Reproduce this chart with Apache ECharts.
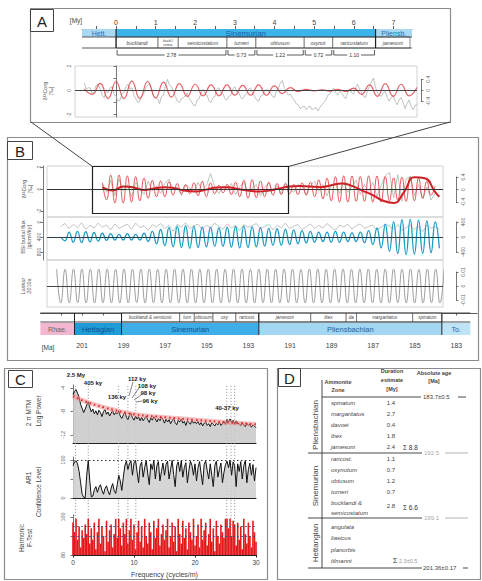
<!DOCTYPE html>
<html><head><meta charset="utf-8">
<script src="https://cdn.jsdelivr.net/npm/echarts@6/dist/echarts.min.js"></script>
<style>html,body{margin:0;padding:0;background:#fff}#c{width:482px;height:581px}</style>
</head><body><div id="c"></div>
<script>
const FONT = "'Liberation Sans', Arial, sans-serif";

// ================= DATA =================
// Panel A (time in My from the Hettangian/Sinemurian boundary)
const myLabelsA = [0,1,2,3,4,5,6,7];
const myTicksA = [-0.5,0,0.5,1,1.5,2,2.5,3,3.5,4,4.5,5,5.5,6,6.5,7];
const stagesA = [['Hett.',-0.86,0],['Sinemurian',0,6.55],['Pliensb.',6.55,7.47]];
const zonesA = [['bucklandi',0,1.06],['buckl./\nsemic.',1.06,1.57],['semicostatum',1.57,2.80],['turneri',2.80,3.53],['obtusum',3.53,4.75],['oxynot.',4.75,5.47],['raricostatum',5.47,6.55],['jamesoni',6.55,7.42]];
const durationsA = [['2.78',0,2.80],['0.73',2.80,3.53],['1.22',3.53,4.75],['0.72',4.75,5.47],['1.10',5.47,6.55]];
const aLeftLabels = [-2,0,2];
const aRightLabels = [-0.4,0,0.4];
const redAStart = -0.8, redAStep = 0.2;
const redA = [0.05,-0.15,0.25,-0.3,0.32,-0.3,0.33,-0.3,0.32,-0.28,0.3,-0.25,0.24,-0.22,0.22,-0.2,0.2,-0.2,0.2,-0.18,0.18,-0.18,0.2,-0.18,0.16,-0.12,0.1,-0.05,0.03,-0.02,0.02,-0.03,0.03,-0.05,0.08,-0.15,0.2,-0.22,0.24,-0.22,0.22,-0.2,0.1];
const grayAStart = -0.8, grayAStep = 0.05;
const grayA = [0.6,0.1,0.2,0.2,-0.3,-0.1,0.4,0.5,0.1,-0.4,-0.6,-0.1,-0.2,0.2,0.3,-0.3,-0.5,-0.9,-0.8,-0.3,
  -0.2,0.3,0.5,0.1,0.2,-0.4,-0.7,-1.0,-0.9,-0.4,-0.3,0.2,0.4,0.5,0.1,-0.5,-0.6,-0.7,-1.1,-0.5,
  -0.4,0.4,0.9,0.4,0.3,-0.1,-0.5,-0.9,-1.0,-0.7,-0.6,-0.5,-0.2,-0.7,-0.9,-1.2,-1.3,-0.8,-0.7,-0.2,
  0.1,-0.3,-0.4,-0.9,-1.0,-0.6,-0.5,0.1,0.2,-0.2,-0.3,-0.7,-0.8,-0.5,-0.4,0.1,0.3,-0.1,-0.2,-0.6,
  -0.7,-0.4,-0.3,0.1,0.2,-0.3,-0.5,-0.8,-0.9,-0.5,-0.4,-0.1,0.1,-0.1,-0.2,-0.5,-0.6,-0.1,0.2,0.6,
  0.8,0.2,-0.1,-0.4,-0.3,-0.6,-0.8,-1.1,-1.2,-1.5,-1.4,-1.3,-1.6,-1.4,-1.3,-1.6,-1.5,-1.4,-1.7,-1.4,
  -1.2,-1.0,-0.8,-0.4,-0.3,0.0,0.2,-0.2,-0.4,-0.1,-0.2,-0.5,-0.7,-0.2,0.1,-0.2,-0.3,0.2,0.5,0.1,
  -0.2,-0.5,-0.6,0.0,0.3,0.7,1.0,0.3,-0.2,-0.4,-0.5,-0.2,-0.1,-0.6,-0.9,-0.6,-0.4,-0.9,-1.2,-0.8,
  -0.6,-1.0,-1.5,-1.1,-0.8,-1.3,-1.6,-1.3,-1.1];

// Panel B (absolute age, Ma)
const maLabelsB = [183,185,187,189,191,193,195,197,199,201];
const maTicksB = [183,184,185,186,187,188,189,190,191,192,193,194,195,196,197,198,199,200,201,202];
const stagesB = [['Rhae.',203.0,201.36],['Hettagian',201.36,199.1],['Sinemurian',199.1,192.5],['Pliensbachian',192.5,183.7],['To.',183.7,182.33]];
const zonesB = [['bucklandi & semicost.',199.1,196.3],['turn',196.3,195.6],['obtusum',195.6,194.7],['oxy',194.7,193.6],['raricost.',193.6,192.5],['jamesoni',192.5,190.0],['ibex',190.0,188.3],['da',188.3,187.8],['margaritatus',187.8,185.1],['spinatum',185.1,183.7]];
const bandsB = [[201.58,201.4,'b'],[199.7,199.42,'b'],[185.55,185.1,'b'],[183.55,182.8,'p']];
const b1LeftLabels = [-2,0,2];
const b2LeftLabels = [0,400,800];
const b1RightLabels = [-0.4,0,0.4];
const b2RightLabels = [-400,0,400];
const b3RightLabels = [-0.01,0,0.01];
const redBStart = 200.0, redBStep = -0.2;
const redB = [0.2,-0.35,0.45,-0.45,0.45,-0.45,0.42,-0.42,0.4,-0.38,0.35,-0.3,0.28,-0.25,0.26,-0.25,0.24,-0.2,0.18,-0.15,0.14,-0.15,0.2,-0.22,0.25,-0.25,0.2,-0.15,0.12,-0.12,0.15,-0.18,0.22,-0.25,0.28,-0.3,0.3,-0.28,0.26,-0.25,0.22,-0.2,0.18,-0.18,0.16,-0.15,0.15,-0.18,0.2,-0.2,0.22,-0.25,0.3,-0.32,0.35,-0.38,0.4,-0.42,0.42,-0.42,0.42,-0.4,0.4,-0.4,0.42,-0.42,0.42,-0.42,0.4,-0.38,0.36,-0.36,0.38,-0.4,0.4,-0.38,0.35,-0.3,0.25,-0.2,0.1];
const thickRedAge = [200.0,199.5,199.0,198.5,198.0,197.5,197.0,196.5,196.0,195.5,195.0,194.5,194.0,193.5,193.0,192.5,192.0,191.5,191.0,190.5,190.0,189.5,189.0,188.5,188.0,187.5,187.0,186.5,186.0,185.5,185.0,184.5,184.0,183.8];
const thickRedVal = [0.05,-0.05,0.08,0.05,-0.03,0.02,0.06,0.02,-0.06,-0.08,-0.02,0.05,0.06,0.0,-0.05,-0.08,-0.05,0.02,0.08,0.1,0.08,0.06,0.12,0.18,0.1,-0.05,-0.2,-0.38,-0.45,-0.1,0.38,0.35,-0.1,-0.25];
const grayB1 = [0.5,-0.3,0.8,-0.6,0.9,-0.2,0.4,-0.7,0.6,0.1,-0.5,0.7,-0.2,0.3,-0.4,0.5,0.9,-0.1,0.2,-0.6,0.4,0.1,-0.3,0.6,-0.2,0.3,1.4,0.2,-0.4,0.3,-0.1,0.5,-0.5,0.2,0.6,-0.3,0.1,0.4,-0.6,0.2,0.5,-0.2,0.3,-0.4,0.6,0.0,-0.3,0.4,0.2,-0.5,0.3,0.7,-0.2,0.4,-0.6,0.3,0.5,-0.4,0.6,-0.3,0.2,0.8,-0.5,0.4,-0.2,0.6,-0.7,0.3,1.2,1.5,-0.8,1.3,-1.1,0.9,1.1,-0.6,0.4,-0.9,0.2,-1.0,-0.4];
const blueBStart = 202.0, blueBStep = -0.2;
const blueB = [0,-100,130,-140,150,-150,140,-130,120,-110,100,-90,90,
  -80,70,-80,90,-80,70,-80,100,-120,150,-180,
  200,-230,250,-260,280,-280,300,-300,290,-280,270,-260,260,-250,240,-250,260,-270,280,-290,290,-280,270,-260,250,-240,230,-220,220,-220,210,-200,190,-180,170,-160,150,
  -140,130,-120,130,-140,150,-140,130,-120,110,-120,130,-150,170,-200,240,-290,340,-380,410,
  -440,460,-470,470,-460,450,-440,430,-420,400,-300];
const grayB2 = [120,40,180,60,150,20,200,90,160,30,140,80,210,50,170,110,60,190,30,150,100,220,70,130,40,180,90,250,60,140,20,170,110,60,200,80,150,30,120,190,50,160,90,230,70,140,100,40,180,120,60,210,90,150,30,170,110,70,200,130,50,180,90,160,40,140,220,80,130,60,190,100,50,170,120,80,210,140,60,110,180,70,230,150,90,200,120,260,80,170,120,200];
const laskarStart = 202.2, laskarStep = -0.2025;
const laskar = [1.0,-1.0,0.98,-1.0,1.0,-0.98,1.0,-1.0,0.99,-1.0,1.0,-0.99,1.0,-1.0,0.98,-1.0,1.0,-1.0,0.99,-0.98,1.0,-1.0,1.0,-0.99,0.98,-1.0,1.0,-1.0,1.0,-0.99,0.99,-1.0,1.0,-1.0,0.98,-0.99,1.0,-1.0,1.0,-1.0,0.99,-0.98,1.0,-1.0,1.0,-1.0,0.98,-1.0,1.0,-0.99,1.0,-1.0,0.99,-1.0,1.0,-0.98,1.0,-1.0,0.98,-1.0,1.0,-0.99,1.0,-1.0,0.99,-1.0,1.0,-0.98,1.0,-1.0,0.98,-1.0,1.0,-1.0,1.0,-0.99,0.99,-1.0,1.0,-1.0,1.0,-0.98,0.99,-1.0,1.0,-1.0,0.98,-1.0,1.0,-0.99,1.0,-1.0,0.99];

// Panel C (frequency, cycles/m)
const freqStart = 0, freqStep = 0.25;
const mtmPower = [-5.2,-4.6,-4.3,-4.9,-5.6, -6.8,-7.5,-8.2,-7.6, -6.9,-6.4,-7.3,-8.1,
  -7.6,-8.4,-7.9,-8.6,-7.8,-8.2,-8.9,-8.0,-7.7,-8.5,-8.1,-8.8,-8.3,-7.9,-8.6,-8.2,
  -8.4,-7.9,-8.8,-9.2,-8.6,-8.1,-9.0,-9.4,-8.7,-8.3,-9.1,-9.5,-8.8,-9.3,-8.9,-9.6,
  -9.0,-9.6,-9.2,-8.8,-9.4,-9.9,-9.1,-9.5,-8.9,-9.3,-9.8,-9.2,-9.6,-9.0,-9.4,-10.0,
  -9.3,-9.8,-9.4,-10.1,-9.6,-9.2,-9.9,-10.3,-9.5,-9.8,-9.3,-10.0,-9.7,-10.4,-9.6,-9.9,-10.2,-9.5,-10.0,-9.8,
  -10.1,-9.7,-10.3,-9.9,-10.5,-10.0,-9.8,-10.4,-10.1,-10.6,-9.9,-10.2,-10.5,-10.0,-10.3,-9.8,-10.4,-10.1,-9.7,-10.2,
  -9.4,-9.8,-9.3,-9.9,-9.5,-10.2,-9.6,-10.0,
  -10.1,-10.4,-9.9,-10.3,-10.6,-10.0,-10.4,-10.2,-10.7,-10.3,-10.5,-10.8];
const confFreq = [0,2,5,10,15,20,25,30];
const confPower = [-5.4,-6.3,-7.3,-8.5,-9.0,-9.45,-9.85,-10.2];
const ar1Conf = [85,95,98,90,70, 40,10,2,1, 60,99,45,3,
  5,22,30,15,28,35,20,10,25,32,18,8,26,38,20,12,
  35,60,45,20,55,85,97,75,90,98,60,92,99,70,40,85,
  95,55,80,98,65,35,90,75,99,50,85,96,45,70,92,60,
  88,97,50,75,99,62,30,85,95,70,98,55,80,93,40,72,97,86,60,90,
  45,80,96,65,35,88,98,72,50,90,60,30,85,97,55,75,92,40,68,88,
  97,80,99,60,95,85,30,90,
  70,96,50,85,99,40,75,92,60,88,45,80];
const fTest = [97,92,99,88,95, 84,93,89,96, 91,99,86,94,
  88,97,83,92,99,86,95,90,82,98,87,93,96,84,91,99,
  89,99,94,85,97,91,99,86,93,99,88,96,83,92,98,87,
  95,84,99,90,86,97,92,83,98,89,94,99,85,91,96,88,
  93,99,84,90,97,87,95,82,99,91,86,98,89,94,83,97,92,88,99,85,
  90,96,84,99,88,93,97,85,91,99,87,94,82,98,90,86,96,92,89,99,
  99,94,99,90,98,96,85,97,
  88,95,83,99,91,86,97,90,84,98,92,87];
const bandsC = [[0,0.8,'gray'],[2.2,2.8,'cyan'],[7.1,7.8,'green'],[8.7,9.3,'green'],[10.0,10.6,'green'],[24.6,27.0,'yellow']];
const bandLinesC = [0.4,2.5,7.45,9.0,10.3,25.2,25.9,26.5];
const peakLabelsC = ['2.5 My','405 ky','136 ky','112 ky','108 ky','98 ky','96 ky','40-37 ky'];
const freqLabels = [0,10,20,30];
const c1Labels = [-12,-8,-4];
const c2Labels = [0,100];
const c3Labels = [80,100];
const fLevels = [90,95];

// Panel D (table)
const zonesPl = ['spinatum','margaritatus','davoei','ibex','jamesoni'];
const durPl = ['1.4','2.7','0.4','1.8','2.4'];
const zonesSi = ['raricost.','oxynotum','obtusum','turneri','bucklandi &','semicostatum'];
const durSi = ['1.1','0.7','1.2','0.7','2.8'];
const zonesHe = ['angulata','liasicus','planorbis','tilmanni'];
const sumsD = ['8.8','6.6','2.3±0.5'];
const agesD = ['183.7±0.5','192.5','199.1','201.36±0.17'];

// ================= HELPERS =================
const seq = (start, step, vals) => vals.map((v, i) => [+(start + i * step).toFixed(4), v]);
const zip = (xs, ys) => xs.map((x, i) => [x, ys[i]]);
const hx = (g, min, max, inv) => ({gridIndex: g, type: 'value', min, max, inverse: !!inv, show: false});
const hy = hx;
const axisCol = '#555';
function visY(g, min, max, labels, o) {
  o = o || {};
  return {gridIndex: g, type: 'value', min, max, inverse: !!o.inverse, position: o.pos || 'left', offset: o.offset || 0,
    axisLine: {show: true, lineStyle: {color: axisCol, width: 0.8}},
    axisTick: {show: true, customValues: o.ticks || labels, length: 2.5, lineStyle: {color: axisCol, width: 0.8}},
    axisLabel: {show: true, customValues: labels, rotate: 90, fontSize: o.fs || 5, color: '#666', margin: 2},
    splitLine: {show: false}};
}
function spanSeries(xi, yi, items, y0, y1, look) {
  return {type: 'custom', xAxisIndex: xi, yAxisIndex: yi, clip: false, silent: true, z: 3,
    data: items.map((d, i) => [d[1], d[2], i, y0]), encode: {x: [0, 1], y: 3},
    renderItem: (p, api) => {
      const i = api.value(2), d = items[i];
      const a = api.coord([api.value(0), y0]), b = api.coord([api.value(1), y1]);
      const x = Math.min(a[0], b[0]), y = Math.min(a[1], b[1]), w = Math.abs(b[0] - a[0]), h = Math.abs(b[1] - a[1]);
      const s = look(d, i);
      const kids = [{type: 'rect', shape: {x, y, width: w, height: h}, style: {fill: s.fill, stroke: s.stroke || null, lineWidth: s.lw || 0}}];
      if (s.font) kids.push({type: 'text', style: {text: d[0], x: x + w / 2, y: y + h / 2, align: 'center', verticalAlign: 'middle', fill: s.color || '#333', font: s.font, lineHeight: s.lh || undefined}});
      return {type: 'group', children: kids};
    }};
}
function segSeries(xi, yi, segs, style, z) {
  return {type: 'custom', xAxisIndex: xi, yAxisIndex: yi, clip: false, silent: true, z: z || 4,
    data: segs, encode: {x: [0, 2], y: [1, 3]},
    renderItem: (p, api) => {
      const a = api.coord([api.value(0), api.value(1)]), b = api.coord([api.value(2), api.value(3)]);
      return {type: 'line', shape: {x1: a[0], y1: a[1], x2: b[0], y2: b[1]}, style: Object.assign({stroke: '#333', lineWidth: 0.8}, style)};
    }};
}
const zeroLine = (col) => ({silent: true, symbol: 'none', label: {show: false}, animation: false,
  lineStyle: {color: col || '#333', width: 1, type: 'solid'}, data: [{yAxis: 0}]});
const lineS = (xi, yi, data, col, w, extra) => Object.assign({type: 'line', xAxisIndex: xi, yAxisIndex: yi, data, showSymbol: false, symbol: 'none', silent: true,
  lineStyle: {color: col, width: w}}, extra || {});

// ================= GRIDS / AXES =================
const G = (left, top, width, height, border) => Object.assign({left, top, width, height, outerBoundsMode: 'none', containLabel: false},
  border ? {show: true, borderColor: '#d2d2d2', borderWidth: 1} : {});
const grid = [
  G(82, 29, 330, 29),            // 0 A timeline
  G(75, 66, 342, 51, true),      // 1 A plot
  G(421, 79.3, 2, 22),           // 2 A bracket
  G(40.4, 166, 436.8, 176),      // 3 B bands
  G(47, 166, 396, 51, true),     // 4 B1
  G(47, 217, 396, 43, true),     // 5 B2
  G(47, 260, 396, 47, true),     // 6 B3
  G(40.4, 313, 436.8, 22),       // 7 B timeline
  G(456, 177, 2, 25),            // 8 B1 bracket
  G(456, 222, 2, 30),            // 9 B2 bracket
  G(456, 272, 2, 28),            // 10 B3 bracket
  G(73, 385, 183, 170),          // 11 C bands
  G(73, 385, 183, 58),           // 12 C1
  G(73, 457, 183, 41),           // 13 C2
  G(73, 515, 183, 40)            // 14 C3
];
const cX = (g) => ({gridIndex: g, type: 'value', min: 0, max: 30, position: 'bottom',
  axisLine: {show: true, lineStyle: {color: '#222', width: 1.2}}, axisTick: {show: false}, axisLabel: {show: false}, splitLine: {show: false}});
const xAxis = [
  {gridIndex: 0, type: 'value', min: -0.86, max: 7.47, position: 'top',
    axisLine: {show: true, lineStyle: {color: '#333', width: 0.8}},
    axisTick: {show: true, customValues: myTicksA, length: 3, lineStyle: {color: '#333', width: 0.8}},
    axisLabel: {show: true, customValues: myLabelsA, fontSize: 7, color: '#444', margin: 3}, splitLine: {show: false}},
  hx(1, -1.035, 7.60),
  hx(2, 0, 1),
  hx(3, 182, 203, true),
  hx(4, 183.625, 202.663, true), hx(5, 183.625, 202.663, true), hx(6, 183.625, 202.663, true),
  {gridIndex: 7, type: 'value', min: 182, max: 203, inverse: true, position: 'bottom',
    axisLine: {show: true, lineStyle: {color: '#333', width: 0.8}},
    axisTick: {show: true, customValues: maTicksB, length: 2.5, lineStyle: {color: '#333', width: 0.8}},
    axisLabel: {show: true, customValues: maLabelsB, fontSize: 7, color: '#444', margin: 7}, splitLine: {show: false}},
  hx(8, 0, 1), hx(9, 0, 1), hx(10, 0, 1), hx(11, 0, 30),
  cX(12), cX(13),
  {gridIndex: 14, type: 'value', min: 0, max: 30, position: 'bottom',
    axisLine: {show: true, lineStyle: {color: '#222', width: 1.2}},
    axisTick: {show: true, customValues: freqLabels, length: 2.5, lineStyle: {color: '#222'}},
    axisLabel: {show: true, customValues: freqLabels, fontSize: 6.5, color: '#444', margin: 4},
    name: 'Frequency (cycles/m)', nameLocation: 'middle', nameGap: 16, nameTextStyle: {fontSize: 7, color: '#444'},
    splitLine: {show: false}}
];
const yAxis = [
  hy(0, 0, 29, true),                                             // 0
  visY(1, -2.2, 2.0, aLeftLabels, {offset: 2, ticks: [-2, -1, 0, 1, 2]}), // 1
  hy(1, -0.971, 0.883),                                           // 2
  visY(2, -0.4, 0.4, aRightLabels, {pos: 'right'}),               // 3
  hy(3, 0, 1),                                                    // 4
  visY(4, -2.545, 2.09, b1LeftLabels, {offset: 4}),               // 5
  hy(4, -0.903, 0.742),                                           // 6
  visY(5, -133, 1013, b2LeftLabels, {offset: 4, inverse: true}),  // 7
  hy(5, -613, 533),                                               // 8
  hy(6, -1.235, 1.53),                                            // 9
  hy(7, 0, 22, true),                                             // 10
  visY(8, -0.4, 0.4, b1RightLabels, {pos: 'right'}),              // 11
  visY(9, -400, 400, b2RightLabels, {pos: 'right'}),              // 12
  visY(10, -0.01, 0.01, b3RightLabels, {pos: 'right'}),           // 13
  hy(11, 0, 1),                                                   // 14
  visY(12, -13.4, -3.5, c1Labels, {offset: 5, fs: 5.5}),          // 15
  visY(13, 0, 108, c2Labels, {offset: 5, fs: 5.5, ticks: [0, 50, 100]}), // 16
  visY(14, 80, 101, c3Labels, {offset: 5, fs: 5.5, ticks: [80, 90, 100]}) // 17
];

// ================= SERIES =================
const stageColA = {'Hett.': ['#a9d8f2', '#2a6db5'], 'Sinemurian': ['#3cb4ea', '#1b5fa8'], 'Pliensb.': ['#a9d8f2', '#2a6db5']};
const stageColB = {'Rhae.': ['#f3b6cf', '#666'], 'Hettagian': ['#1f9bd7', '#14508e'], 'Sinemurian': ['#3daee8', '#14508e'], 'Pliensbachian': ['#a3d6f1', '#2565a8'], 'To.': ['#bfe3f6', '#2565a8']};
const bandColB = {b: 'rgba(140,165,210,0.38)', p: 'rgba(150,150,220,0.42)'};
const bandColC = {gray: 'rgba(170,170,170,0.45)', cyan: 'rgba(110,205,220,0.45)', green: 'rgba(120,205,165,0.45)', yellow: 'rgba(215,228,120,0.55)'};

const series = [];
// --- A timeline
series.push(spanSeries(0, 0, stagesA, 0, 8, (d) => ({fill: stageColA[d[0]][0], color: stageColA[d[0]][1], font: `${d[0] === 'Sinemurian' ? 8 : 7}px ${FONT}`})));
series.push(spanSeries(0, 0, zonesA, 8, 19, (d) => ({fill: '#fff', stroke: '#444', lw: 0.6, color: '#444', font: `italic ${d[0].indexOf('\n') >= 0 ? 3.5 : 5}px ${FONT}`, lh: 4})));
series.push(segSeries(0, 0, [[stagesA[0][1], 19, stagesA[2][2], 19], [stagesA[0][1], 8, stagesA[2][2], 8]], {lineWidth: 0.8}));
series.push(segSeries(0, 0, [[stagesA[1][1], 0, stagesA[1][1], 19], [stagesA[1][2], 0, stagesA[1][2], 19]], {stroke: '#222', lineWidth: 1.2}));
series.push({type: 'custom', xAxisIndex: 0, yAxisIndex: 0, clip: false, silent: true, z: 3,
  data: durationsA.map((d, i) => [d[1], d[2], i, 27]), encode: {x: [0, 1], y: 3},
  renderItem: (p, api) => {
    const d = durationsA[api.value(2)];
    const a = api.coord([api.value(0), 21]), b = api.coord([api.value(1), 26]);
    const x1 = a[0] + 1, x2 = b[0] - 1;
    return {type: 'group', children: [
      {type: 'polyline', shape: {points: [[x1, a[1]], [x1, b[1]], [x2, b[1]], [x2, a[1]]]}, style: {stroke: '#333', lineWidth: 0.8, fill: null}},
      {type: 'text', style: {text: d[0], x: (x1 + x2) / 2, y: b[1], align: 'center', verticalAlign: 'middle', fill: '#333', font: `5px ${FONT}`, backgroundColor: '#fff', padding: [0, 2]}}
    ]};
  }});
// --- A plot
series.push(lineS(1, 1, seq(grayAStart, grayAStep, grayA), '#a9b4ab', 0.8, {z: 2}));
series.push(lineS(1, 2, seq(redAStart, redAStep, redA), 'rgba(226,70,76,0.85)', 1.2, {smooth: 0.5, z: 3, markLine: zeroLine('#444')}));

// --- B bands
series.push(spanSeries(3, 4, bandsB, 0, 1, (d) => ({fill: bandColB[d[2]]})));
series[series.length - 1].z = 1;
// --- B1
series.push(lineS(4, 5, seq(redBStart, redBStep, grayB1), '#a9b9aa', 0.8, {z: 2}));
series.push(lineS(4, 6, seq(redBStart, redBStep, redB), 'rgba(228,58,62,0.85)', 1, {smooth: 0.5, z: 3}));
series.push(lineS(4, 6, zip(thickRedAge, thickRedVal), '#cf2228', 2, {smooth: 0.5, z: 4, markLine: zeroLine('#333')}));
// --- B2
series.push(lineS(5, 7, seq(blueBStart, blueBStep, grayB2), '#b4b4b4', 0.8, {z: 2}));
series.push(lineS(5, 8, seq(blueBStart, blueBStep, blueB), '#1b9cc2', 1.3, {smooth: 0.5, z: 3, markLine: zeroLine('#2b3f4a')}));
// --- B3
series.push(lineS(6, 9, seq(laskarStart, laskarStep, laskar), '#9c9c9c', 1, {smooth: 0.5, z: 3, markLine: zeroLine('#444')}));
// --- B timeline
series.push(spanSeries(7, 10, stagesB, 10, 22, (d) => ({fill: stageColB[d[0]][0], color: stageColB[d[0]][1], font: `${d[0].length > 6 ? 7.5 : 7}px ${FONT}`})));
series.push(spanSeries(7, 10, zonesB, 0, 9, (d) => ({fill: '#fff', stroke: '#444', lw: 0.6, color: '#444', font: `italic 4.5px ${FONT}`})));
series.push(segSeries(7, 10, [[stagesB[0][1], 0, stagesB[4][2], 0], [stagesB[0][1], 9, stagesB[4][2], 9]], {lineWidth: 0.9}));
series.push(segSeries(7, 10, stagesB.slice(1).map(s => [s[1], 0, s[1], 22]), {stroke: '#222', lineWidth: 1}));

// --- C bands
series.push(spanSeries(11, 14, bandsC, 0, 1, (d) => ({fill: bandColC[d[2]]})));
series[series.length - 1].z = 1;
series.push(segSeries(11, 14, bandLinesC.map(f => [f, 0, f, 1]), {stroke: '#888', lineWidth: 0.8, lineDash: [1.2, 1.8]}, 1));
// --- C1
series.push(lineS(12, 15, seq(freqStart, freqStep, mtmPower), '#111', 1, {z: 3, areaStyle: {color: '#c8c8c8', origin: 'start', opacity: 0.85}}));
series.push(lineS(12, 15, zip(confFreq, confPower), 'rgba(238,140,140,0.55)', 4.5, {smooth: 0.4, z: 4}));
series.push(lineS(12, 15, zip(confFreq, confPower), '#e0262a', 2, {smooth: 0.4, z: 5, lineStyle: {color: '#e0262a', width: 2, type: [1.5, 3]}}));
// --- C2
series.push(lineS(13, 16, seq(freqStart, freqStep, ar1Conf), '#111', 1, {z: 3, areaStyle: {color: '#cfcfcf', origin: 'start', opacity: 0.85},
  markLine: {silent: true, symbol: 'none', label: {show: false}, lineStyle: {color: '#333', width: 1, type: [1.5, 2.5]}, data: [{yAxis: 100}]}}));
// --- C3
series.push({type: 'bar', xAxisIndex: 14, yAxisIndex: 17, data: seq(freqStart, freqStep, fTest), barWidth: 1.6, clip: true, silent: true, z: 3,
  itemStyle: {color: '#e3191c'},
  markLine: {silent: true, symbol: 'none', label: {show: false}, lineStyle: {color: '#2c4f8c', width: 0.8, type: [2, 2]}, data: fLevels.map(v => ({yAxis: v}))}});

// ================= GRAPHIC (frames, titles, table) =================
const T = (text, x, y, o) => { o = o || {}; return {type: 'text', x, y, rotation: o.rot || 0, z: o.z || 50,
  style: {text, fill: o.color || '#333', font: `${o.italic ? 'italic ' : ''}${o.bold ? 'bold ' : ''}${o.size || 6.5}px ${FONT}`, align: o.align || 'center', verticalAlign: o.va || 'middle', lineHeight: o.lh || undefined}}; };
const L = (x1, y1, x2, y2, o) => { o = o || {}; return {type: 'line', z: o.z || 40, shape: {x1, y1, x2, y2}, style: {stroke: o.color || '#333', lineWidth: o.w || 0.8, lineDash: o.dash || null}}; };
const R = (x, y, w, h, o) => { o = o || {}; return {type: 'rect', z: o.z || 0, shape: {x, y, width: w, height: h}, style: {fill: o.fill || null, stroke: o.stroke || '#8c8c8c', lineWidth: o.w || 1.2}}; };
const V = Math.PI / 2;
const el = [];
// frames
el.push(R(30.5, 8.5, 420, 114), R(7.5, 137.5, 471, 223), R(4.5, 368.5, 263, 211), R(277.5, 368.5, 203, 211));
// letter boxes
[['A', 30.5, 9.5, 23, 22], ['B', 7.5, 141.5, 25, 18], ['C', 8.5, 370.5, 24, 17], ['D', 278.5, 368.5, 22, 18]].forEach(b => {
  el.push(R(b[1], b[2], b[3], b[4], {fill: '#fff', stroke: '#444', w: 1, z: 100}));
  el.push(T(b[0], b[1] + b[3] / 2, b[2] + b[4] / 2 + 0.5, {size: 15, z: 101, color: '#222'}));
});
// zoom box + connectors
el.push(R(92.5, 166.5, 196, 47, {stroke: '#222', w: 1.2, z: 60}));
el.push(L(31, 122, 92.5, 166.5, {color: '#444', w: 1}), L(450, 122, 288.5, 166.5, {color: '#444', w: 1}));
// axis titles
el.push(T('[My]', 76, 20, {size: 6.5, color: '#444'}));
el.push(T('[Ma]', 48, 347, {size: 6.5, color: '#444'}));
el.push(T('δ¹³Corg\n[‰]', 48, 91, {rot: V, size: 5.5, color: '#666', lh: 6}));
el.push(T('δ¹³Corg\n[‰]', 27, 189, {rot: V, size: 5.5, color: '#555', lh: 6}));
el.push(T('BSi burial flux\n[g/cm²/ky]', 26, 237, {rot: V, size: 5.5, color: '#555', lh: 6}));
el.push(T('Laskar\n2010a', 26, 286, {rot: V, size: 5.5, color: '#555', lh: 6}));
// Panel C left titles
el.push(T('2 π MTM', 28, 413, {rot: V, size: 6.5, color: '#444'}));
el.push(T('Log Power', 38, 411, {rot: V, size: 6.5, color: '#444'}));
el.push(T('AR1', 28, 478, {rot: V, size: 6.5, color: '#444'}));
el.push(T('Confidence Level', 38, 492, {rot: V, size: 6.5, color: '#444'}));
el.push(T('Harmonic', 21, 538, {rot: V, size: 6.5, color: '#444'}));
el.push(T('F-Test', 29, 538, {rot: V, size: 6.5, color: '#444'}));
// Panel C peak labels
const peakPos = [[76, 375], [93, 383], [117, 397], [137, 379], [147, 386], [148, 393], [150, 401], [227, 408]];
peakLabelsC.forEach((t, i) => el.push(T(t, peakPos[i][0], peakPos[i][1], {size: 6, bold: true, color: '#222', z: 70})));
el.push(L(133, 382, 129, 396, {w: 0.6, z: 70}), L(139, 388, 132, 398, {w: 0.6, z: 70}), L(141, 395, 134, 400, {w: 0.6, z: 70}), L(142, 401, 136, 402, {w: 0.6, z: 70}));
// Panel D table
el.push(T('Ammonite', 338, 382, {size: 5.5, bold: true, color: '#444'}), T('Zone', 338, 390, {size: 5.5, bold: true, color: '#444'}));
el.push(T('Duration', 392, 371, {size: 5.5, bold: true, color: '#444'}), T('estimate', 392, 380, {size: 5.5, bold: true, color: '#444'}), T('[My]', 392, 389, {size: 5.5, bold: true, color: '#444'}));
el.push(T('Absolute age', 434, 373, {size: 5.5, bold: true, color: '#444'}), T('[Ma]', 434, 381, {size: 5.5, bold: true, color: '#444'}));
el.push(L(322, 380, 322, 568, {w: 0.9}));
el.push(L(322, 397, 421, 397, {w: 0.9}), L(458, 397, 466, 397, {w: 0.9}));
el.push(T(agesD[0], 423, 397, {size: 6, align: 'left', color: '#444'}));
zonesPl.forEach((z, i) => {
  const y = 402.5 + i * 11.2;
  el.push(T(z, 331, y, {size: 6, italic: true, align: 'left', color: '#444'}));
  el.push(T(durPl[i], 391, y, {size: 6, color: '#444'}));
});
el.push(T('Σ ' + sumsD[0], 403, 447.5, {size: 6.5, align: 'left', color: '#333'}));
el.push(L(308, 453, 422, 453, {w: 0.9}), L(445, 453, 468, 453, {w: 0.9, color: '#aaa'}));
el.push(T(agesD[1], 424, 453, {size: 6, align: 'left', color: '#aaa'}));
zonesSi.forEach((z, i) => {
  const y = 458.5 + i * 11.2 - (i === 5 ? 1.5 : 0);
  el.push(T(z, 331, y, {size: 6, italic: true, align: 'left', color: '#444'}));
  if (i < 5) el.push(T(durSi[i], 391, y + (i === 4 ? 3 : 0), {size: 6, color: '#444'}));
});
el.push(T('Σ ' + sumsD[1], 403, 507.5, {size: 6.5, align: 'left', color: '#333'}));
el.push(L(308, 518, 422, 518, {w: 0.9}), L(445, 518, 468, 518, {w: 0.9, color: '#aaa'}));
el.push(T(agesD[2], 424, 518, {size: 6, align: 'left', color: '#aaa'}));
zonesHe.forEach((z, i) => {
  const y = 527 + i * 11.3;
  el.push(T(z, 331, y, {size: 6, italic: true, align: 'left', color: '#444'}));
});
el.push(T('Σ', 393, 560, {size: 7, align: 'left', color: '#333'}), T(sumsD[2], 399, 560.5, {size: 5.5, align: 'left', color: '#999'}));
el.push(L(308, 568, 422, 568, {w: 0.9}), L(463, 568, 468, 568, {w: 0.9}));
el.push(T(agesD[3], 423, 568, {size: 6, align: 'left', color: '#444'}));
el.push(T('Pliensbachian', 315, 425, {rot: V, size: 8, color: '#444'}));
el.push(T('Sinemurian', 315, 486, {rot: V, size: 8, color: '#444'}));
el.push(T('Hettangian', 315, 543, {rot: V, size: 8, color: '#444'}));

const chart = echarts.init(document.getElementById('c'), null, {renderer: 'svg'});
chart.setOption({animation: false, backgroundColor: '#fff', textStyle: {fontFamily: FONT},
  grid, xAxis, yAxis, series, graphic: {elements: el}});
</script>
</body></html>
